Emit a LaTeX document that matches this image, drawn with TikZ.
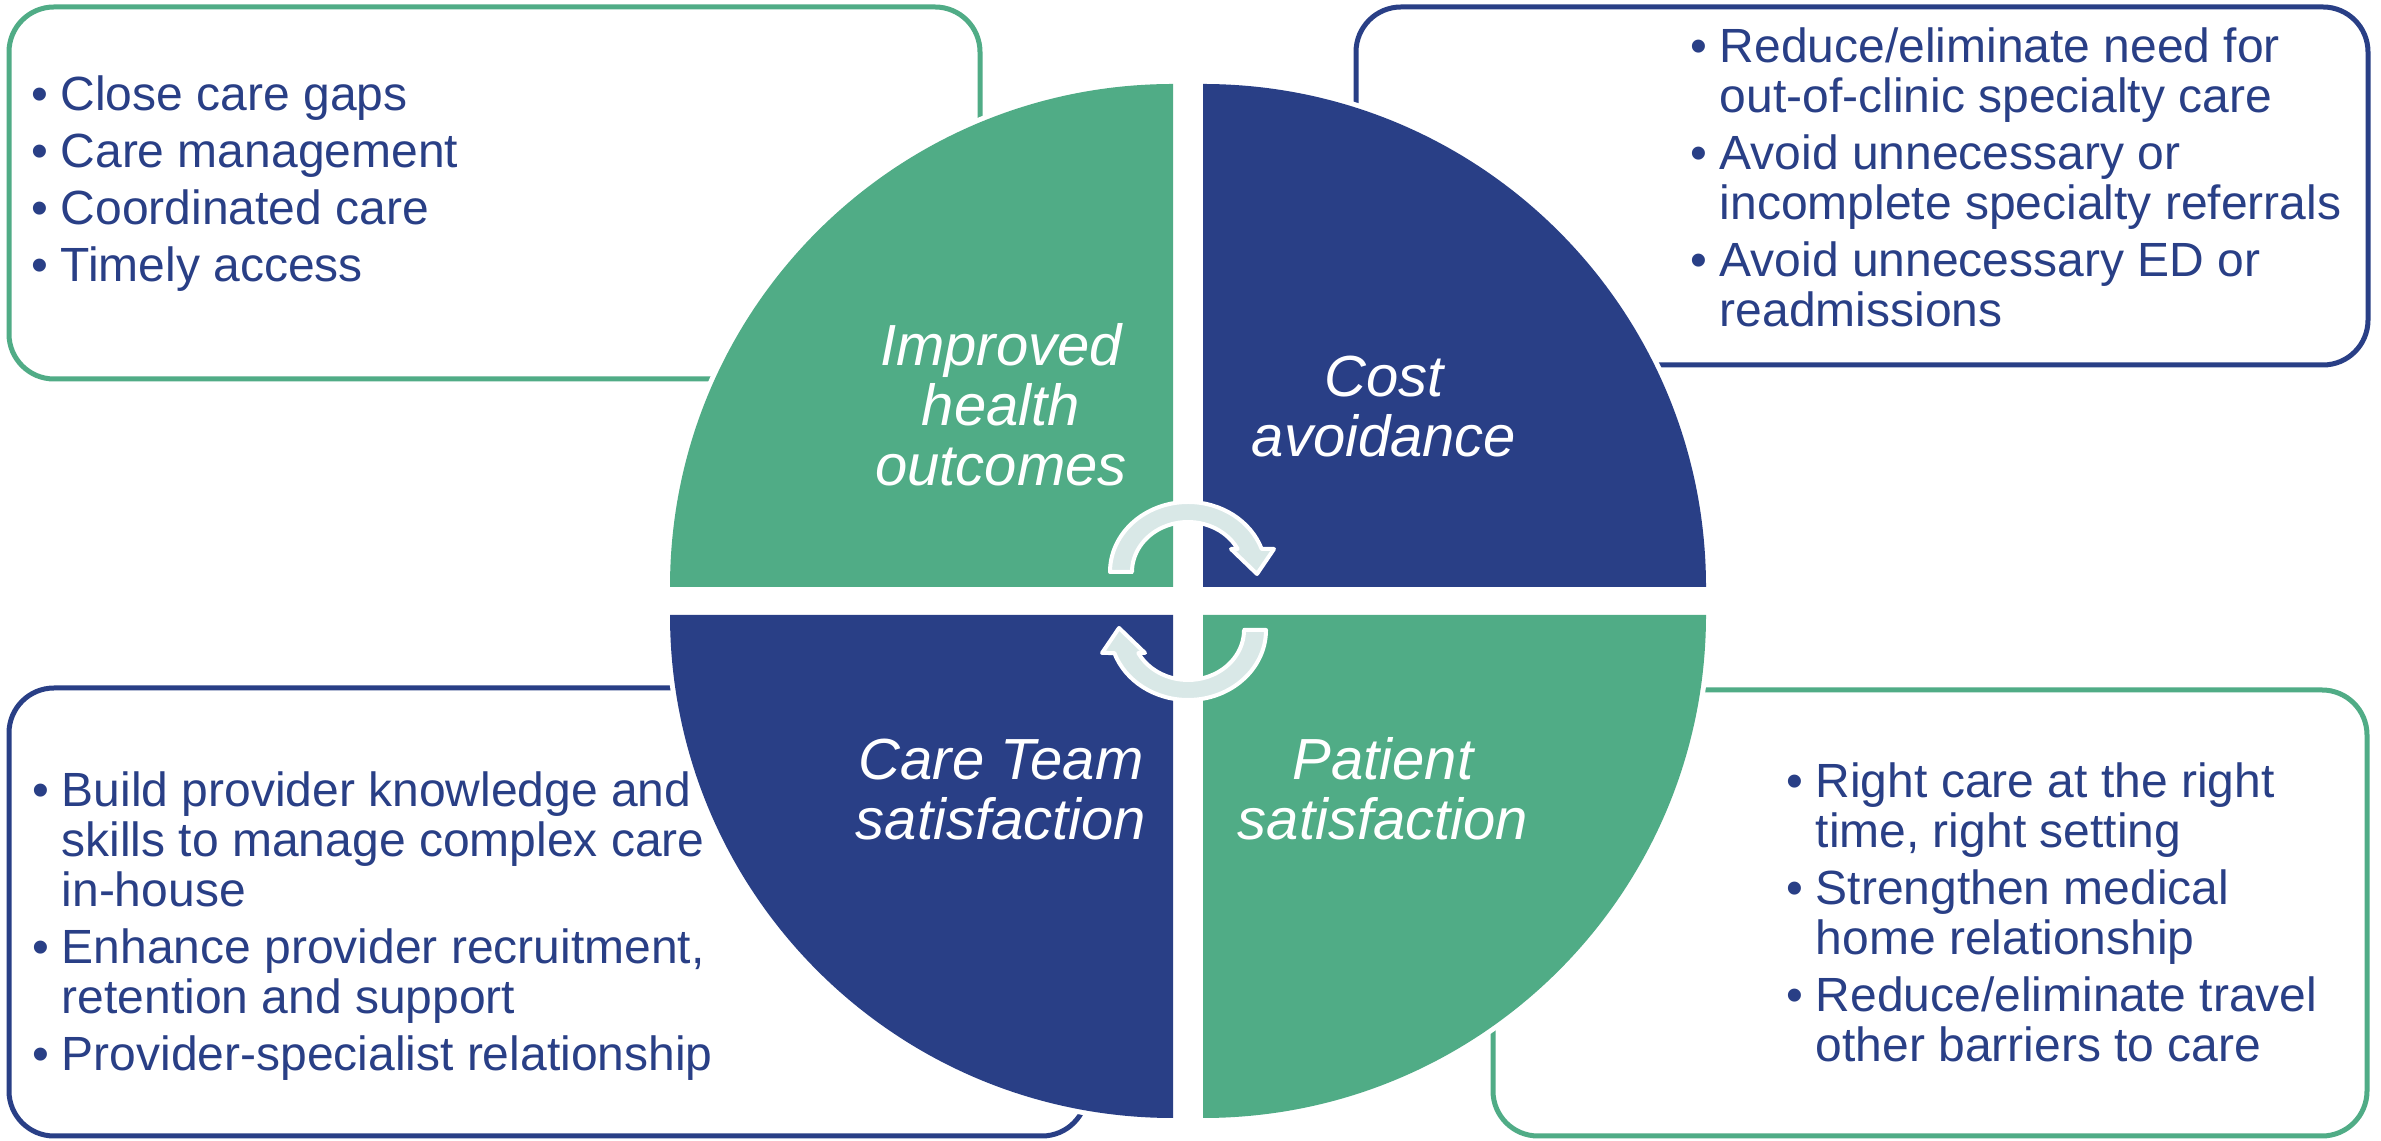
\documentclass[tikz,border=0pt]{standalone}
\usepackage{fontspec}
\setmainfont{Liberation Sans}
\definecolor{qgreen}{RGB}{80,172,134}
\definecolor{qblue}{RGB}{41,63,134}
\definecolor{arrfill}{RGB}{217,232,231}
\newcommand\bfirst[1]{\hbox{\makebox[8.7pt][l]{\textbullet}#1}}
\newcommand\bcont[1]{\hbox{\hspace{8.7pt}#1}}
\newcommand\bgap{\vskip2.1pt}
\newcommand\blist[1]{\vtop{\baselineskip=15pt\lineskiplimit=-30pt #1}}
\newcommand\clab[1]{\vtop{\baselineskip=18pt\lineskiplimit=-30pt #1}}
\newcommand\cl[1]{\hbox to 0pt{\hss#1\hss}}
\tikzset{
  gbox/.style={draw=qgreen, line width=1.5pt, rounded corners=13.5pt},
  bbox/.style={draw=qblue, line width=1.5pt, rounded corners=13.5pt},
  gapline/.style={draw=white, line width=3pt},
  cyc/.style={fill=arrfill, draw=white, line width=1.2pt, line join=round},
  listtxt/.style={anchor=base west, inner sep=0pt, text=qblue, font=\fontsize{14.4pt}{15pt}\selectfont},
  quadlab/.style={anchor=base, inner sep=0pt, text=white, font=\fontsize{17.4pt}{18pt}\selectfont\itshape}
}
\begin{document}
\begin{tikzpicture}[x=0.3pt, y=-0.3pt]
\useasboundingbox (0,0) rectangle (2381,1141);
\fill[white] (0,0) rectangle (2381,1141);

% boxes
\draw[gbox] (9,7) rectangle (980,379);
\draw[bbox] (1356,7) rectangle (2368,365);
\draw[bbox] (9,688) rectangle (1087,1136);
\draw[gbox] (1493,690) rectangle (2367,1136);

% white gaps around the pie
\draw[gapline] (670,587) arc[start angle=180, end angle=270, radius=503];
\draw[gapline] (1203,84) arc[start angle=270, end angle=360, radius=503];
\draw[gapline] (670,615) arc[start angle=180, end angle=90, radius=503];
\draw[gapline] (1706,615) arc[start angle=0, end angle=90, radius=503];

% quadrants
\fill[qgreen] (1173,587) -- (670,587) arc[start angle=180, end angle=270, radius=503] -- cycle;
\fill[qblue] (1203,587) -- (1203,84) arc[start angle=270, end angle=360, radius=503] -- cycle;
\fill[qblue] (1173,615) -- (670,615) arc[start angle=180, end angle=90, radius=503] -- cycle;
\fill[qgreen] (1203,615) -- (1706,615) arc[start angle=0, end angle=90, radius=503] -- cycle;

% circular arrows
\filldraw[cyc] (1132,572) -- (1110,572) arc[start angle=180, end angle=340.8, x radius=78, y radius=70]
  -- (1274,549) -- (1257,574) -- (1231,549) -- (1237.7,549)
  arc[start angle=332.6, end angle=180, x radius=56, y radius=50] -- cycle;
\filldraw[cyc] (1244,630) -- (1266,630) arc[start angle=0, end angle=160.8, x radius=78, y radius=70]
  -- (1102,653) -- (1119,628) -- (1145,653) -- (1138.3,653)
  arc[start angle=152.6, end angle=0, x radius=56, y radius=50] -- cycle;

% quadrant labels
\node[quadlab] (lhealth) at (1001,366) {\clab{\cl{Improved}\cl{health}\cl{outcomes}}};
\node[quadlab] (lcost) at (1384,397) {\clab{\cl{Cost}\cl{avoidance}}};
\node[quadlab] (lteam) at (1001,780) {\clab{\cl{Care Team}\cl{satisfaction}}};
\node[quadlab] (lpatient) at (1383,780) {\clab{\cl{Patient}\cl{satisfaction}}};

% bullet lists
\node[listtxt] (ltl) at (31,111) {\blist{%
  \bfirst{Close care gaps}\bgap
  \bfirst{Care management}\bgap
  \bfirst{Coordinated care}\bgap
  \bfirst{Timely access}}};
\node[listtxt] (ltr) at (1690,63) {\blist{%
  \bfirst{Reduce/eliminate need for}
  \bcont{out-of-clinic specialty care}\bgap
  \bfirst{Avoid unnecessary or}
  \bcont{incomplete specialty referrals}\bgap
  \bfirst{Avoid unnecessary ED or}
  \bcont{readmissions}}};
\node[listtxt] (lbl) at (32,807) {\blist{%
  \bfirst{Build provider knowledge and}
  \bcont{skills to manage complex care}
  \bcont{in-house}\bgap
  \bfirst{Enhance provider recruitment,}
  \bcont{retention and support}\bgap
  \bfirst{Provider-specialist relationship}}};
\node[listtxt] (lbr) at (1786,798) {\blist{%
  \bfirst{Right care at the right}
  \bcont{time, right setting}\bgap
  \bfirst{Strengthen medical}
  \bcont{home relationship}\bgap
  \bfirst{Reduce/eliminate travel}
  \bcont{other barriers to care}}};
\end{tikzpicture}
\end{document}
